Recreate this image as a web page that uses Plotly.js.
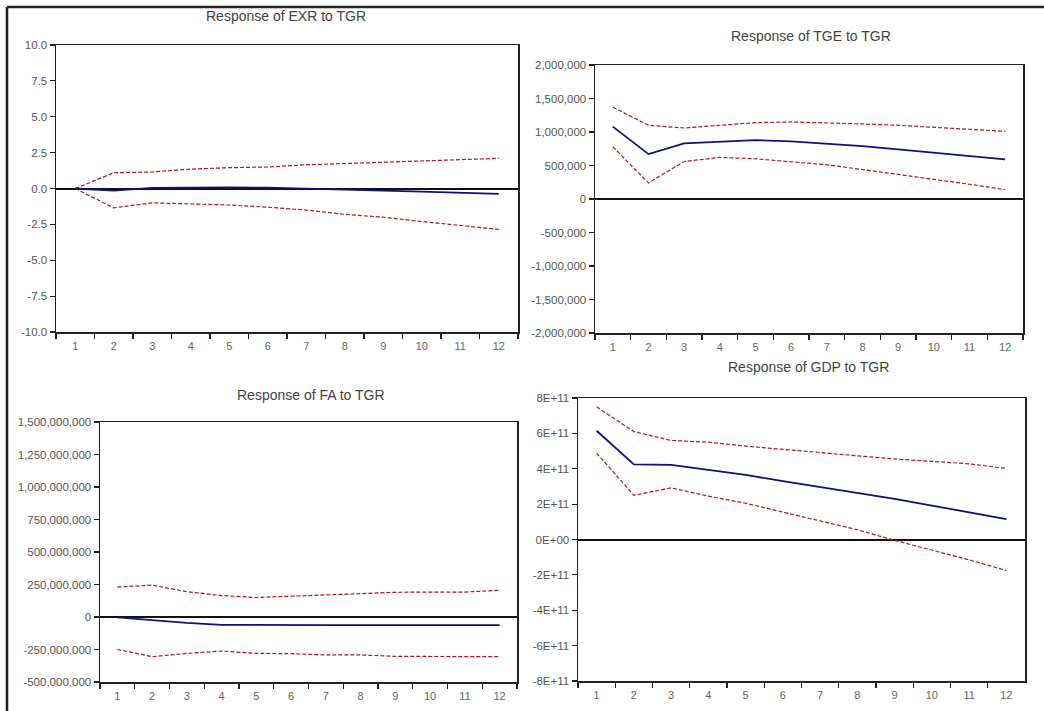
<!DOCTYPE html>
<html>
<head>
<meta charset="utf-8">
<script src="https://cdn.plot.ly/plotly-3.0.1.min.js"></script>
<style>
  html, body { margin: 0; padding: 0; background: #ffffff; }
  #chart { width: 1044px; height: 711px; }
</style>
</head>
<body>
<div id="chart"></div>
<script>
// ---------- data ----------
const periods = ['1','2','3','4','5','6','7','8','9','10','11','12'];

const exrResponse = [0.0, -0.15, 0.05, 0.08, 0.08, 0.06, -0.02, -0.12, -0.15, -0.22, -0.3, -0.38];
const exrUpper    = [0.0, 1.1, 1.15, 1.35, 1.45, 1.5, 1.65, 1.75, 1.85, 1.95, 2.0, 2.1];
const exrLower    = [0.0, -1.35, -1.0, -1.05, -1.15, -1.3, -1.5, -1.8, -2.0, -2.3, -2.55, -2.85];

const tgeResponse = [1080000, 670000, 830000, 860000, 880000, 860000, 830000, 790000, 740000, 690000, 640000, 590000];
const tgeUpper    = [1370000, 1100000, 1060000, 1100000, 1140000, 1150000, 1140000, 1120000, 1100000, 1070000, 1040000, 1010000];
const tgeLower    = [780000, 240000, 560000, 620000, 600000, 560000, 510000, 440000, 370000, 290000, 220000, 140000];

const faResponse = [-3e6, -25e6, -45e6, -60e6, -62e6, -62e6, -62e6, -62e6, -62e6, -62e6, -62e6, -62e6];
const faUpper    = [230e6, 245e6, 195e6, 165e6, 150e6, 160e6, 165e6, 180e6, 190e6, 192e6, 192e6, 205e6];
const faLower    = [-250e6, -305e6, -280e6, -262e6, -280e6, -282e6, -292e6, -292e6, -303e6, -305e6, -305e6, -305e6];

const gdpResponse = [6.15e11, 4.25e11, 4.22e11, 3.95e11, 3.65e11, 3.3e11, 2.98e11, 2.65e11, 2.3e11, 1.92e11, 1.55e11, 1.15e11];
const gdpUpper    = [7.5e11, 6.1e11, 5.6e11, 5.5e11, 5.28e11, 5.1e11, 4.9e11, 4.72e11, 4.55e11, 4.42e11, 4.28e11, 4.02e11];
const gdpLower    = [4.88e11, 2.5e11, 2.92e11, 2.45e11, 2.05e11, 1.55e11, 1.05e11, 0.55e11, -0.05e11, -0.6e11, -1.15e11, -1.75e11];

const panelTitles = ['Response of EXR to TGR', 'Response of TGE to TGR', 'Response of FA to TGR', 'Response of GDP to TGR'];

const exrTickVals = [-10, -7.5, -5, -2.5, 0, 2.5, 5, 7.5, 10];
const exrTickText = ['-10.0', '-7.5', '-5.0', '-2.5', '0.0', '2.5', '5.0', '7.5', '10.0'];
const tgeTickVals = [-2000000, -1500000, -1000000, -500000, 0, 500000, 1000000, 1500000, 2000000];
const tgeTickText = ['-2,000,000', '-1,500,000', '-1,000,000', '-500,000', '0', '500,000', '1,000,000', '1,500,000', '2,000,000'];
const faTickVals = [-500000000, -250000000, 0, 250000000, 500000000, 750000000, 1000000000, 1250000000, 1500000000];
const faTickText = ['-500,000,000', '-250,000,000', '0', '250,000,000', '500,000,000', '750,000,000', '1,000,000,000', '1,250,000,000', '1,500,000,000'];
const gdpTickVals = [-8e11, -6e11, -4e11, -2e11, 0, 2e11, 4e11, 6e11, 8e11];
const gdpTickText = ['-8E+11', '-6E+11', '-4E+11', '-2E+11', '0E+00', '2E+11', '4E+11', '6E+11', '8E+11'];

// ---------- layout geometry (pixels) ----------
const W = 1044, H = 711;
const boxes = [
  {l: 56,  r: 518,  t: 45,  b: 332, tx: 286, ty: 16,  range: [-10, 10],     tv: exrTickVals, tt: exrTickText},
  {l: 595, r: 1023, t: 65,  b: 333, tx: 811, ty: 36,  range: [-2e6, 2e6],   tv: tgeTickVals, tt: tgeTickText},
  {l: 100, r: 517,  t: 422, b: 682, tx: 311, ty: 395, range: [-5e8, 1.5e9], tv: faTickVals,  tt: faTickText},
  {l: 578, r: 1025, t: 398, b: 681, tx: 808, ty: 367, range: [-8e11, 8e11], tv: gdpTickVals, tt: gdpTickText}
];
const series = [
  [exrResponse, exrUpper, exrLower],
  [tgeResponse, tgeUpper, tgeLower],
  [faResponse, faUpper, faLower],
  [gdpResponse, gdpUpper, gdpLower]
];

const FONT = '"Liberation Sans", Arial, "DejaVu Sans", sans-serif';
const bandColor = '#b3151b';
const respColor = '#10107a';

const traces = [];
const layout = {
  width: W, height: H,
  margin: {l: 0, r: 0, t: 0, b: 0},
  paper_bgcolor: '#ffffff',
  plot_bgcolor: '#ffffff',
  showlegend: false,
  font: {family: FONT, size: 11, color: '#555555'},
  annotations: [],
  shapes: [
    {type: 'line', xref: 'paper', yref: 'paper', x0: 7 / W, x1: 1, y0: 1 - 7 / H, y1: 1 - 7 / H, line: {color: '#222222', width: 2.5}},
    {type: 'line', xref: 'paper', yref: 'paper', x0: 7 / W, x1: 7 / W, y0: 0, y1: 1 - 7 / H, line: {color: '#222222', width: 2.5}}
  ]
};

boxes.forEach((bx, i) => {
  const n = i + 1;
  const xa = n === 1 ? 'x' : 'x' + n;
  const ya = n === 1 ? 'y' : 'y' + n;
  const [resp, up, lo] = series[i];
  [up, lo].forEach(arr => {
    traces.push({
      type: 'scatter', mode: 'lines', x: periods, y: arr, xaxis: xa, yaxis: ya,
      line: {color: bandColor, width: 1.2, dash: '4px,2px'}, hoverinfo: 'skip'
    });
  });
  traces.push({
    type: 'scatter', mode: 'lines', x: periods, y: resp, xaxis: xa, yaxis: ya,
    line: {color: respColor, width: 1.8}, hoverinfo: 'skip'
  });

  const axCommon = {
    showline: true, mirror: true, linecolor: '#222222', linewidth: 1.5,
    showgrid: false, ticks: 'outside', ticklen: 5, tickwidth: 1.2, tickcolor: '#222222',
    fixedrange: true
  };
  layout['xaxis' + (n === 1 ? '' : n)] = Object.assign({}, axCommon, {
    type: 'category', tickson: 'boundaries', anchor: ya,
    range: [-0.5, periods.length - 0.5], autorange: false,
    domain: [bx.l / W, bx.r / W], zeroline: false,
    ticklabelstandoff: 3,
    tickfont: {family: FONT, size: 11, color: '#666666'}
  });
  layout['yaxis' + (n === 1 ? '' : n)] = Object.assign({}, axCommon, {
    anchor: xa, domain: [1 - bx.b / H, 1 - bx.t / H], range: bx.range,
    tickmode: 'array', tickvals: bx.tv, ticktext: bx.tt,
    tickfont: {family: FONT, size: 11.5, color: '#555555'},
    zeroline: true, zerolinecolor: '#111111', zerolinewidth: 2
  });
  layout.annotations.push({
    xref: 'paper', yref: 'paper', x: bx.tx / W, y: 1 - bx.ty / H,
    xanchor: 'center', yanchor: 'middle', showarrow: false,
    text: panelTitles[i], font: {family: FONT, size: 14, color: '#444444'}
  });
});

Plotly.newPlot('chart', traces, layout, {displayModeBar: false, staticPlot: true});
</script>
</body>
</html>
